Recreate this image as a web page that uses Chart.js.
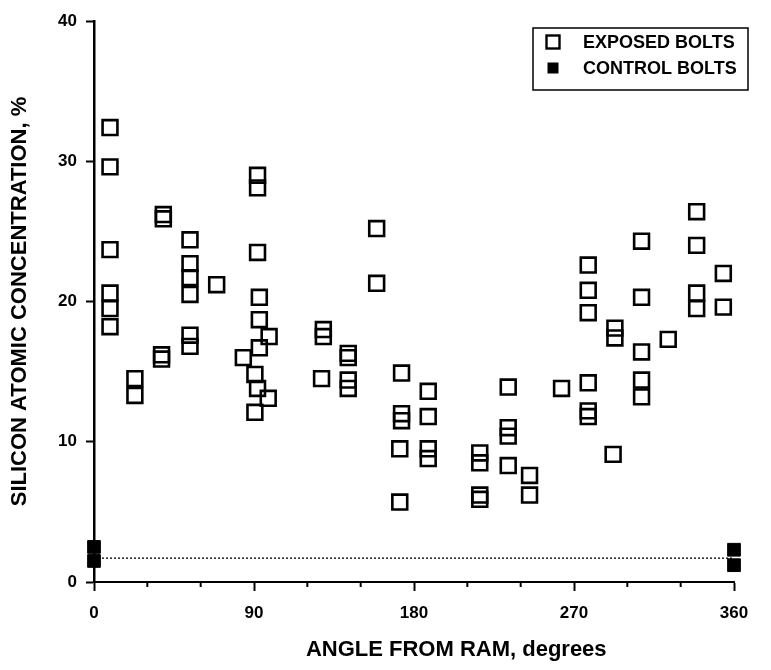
<!DOCTYPE html>
<html>
<head>
<meta charset="utf-8">
<script src="https://cdn.jsdelivr.net/npm/chart.js@4.4.1/dist/chart.umd.min.js"></script>
<style>
  html, body { margin: 0; padding: 0; background: #fff; }
  #wrap { width: 771px; height: 670px; }
</style>
</head>
<body>
<div id="wrap"><canvas id="siChart"></canvas></div>
<script>
// exposed bolts: angle from ram (deg) and silicon concentration (%)
const exposedAngle = [9, 9, 9, 9, 9, 9, 23, 23, 39, 39, 38, 38, 54, 54, 54, 54, 54, 54, 69,
  92, 92, 92, 93, 93, 98.5, 93, 84, 90.5, 92, 98, 90.5, 129, 129, 128, 143, 143, 143, 143,
  159, 159, 173, 173, 173, 172, 172, 188, 188, 188, 188, 217, 217, 217, 217, 233, 233, 233, 233,
  245, 245, 263, 278, 278, 278, 278, 278, 278, 292, 293, 293, 308, 308, 308, 308, 308, 323,
  339, 339, 339, 339, 354, 354];
const exposedSi = [32.4, 29.6, 23.7, 20.6, 19.5, 18.2, 14.5, 13.3, 26.2, 25.9, 16.2, 15.9,
  24.4, 22.7, 21.7, 20.5, 17.6, 16.8, 21.2, 29.0, 28.1, 23.5, 20.3, 18.7, 17.5, 16.7, 16.0,
  14.8, 13.8, 13.1, 12.1, 18.0, 17.5, 14.5, 16.3, 16.0, 14.4, 13.8, 25.2, 21.3, 14.9, 12.0,
  11.5, 9.5, 5.7, 13.6, 11.8, 9.5, 8.8, 9.2, 8.5, 6.2, 5.9, 13.9, 11.0, 10.4, 8.3, 7.6, 6.2,
  13.8, 22.6, 20.8, 19.2, 14.2, 12.2, 11.8, 9.1, 18.1, 17.4, 24.3, 20.3, 16.4, 14.4, 13.2,
  17.3, 26.4, 24.0, 20.6, 19.5, 22.0, 19.6];

// control bolts
const controlAngle = [0, 0, 360, 360];
const controlSi = [2.5, 1.5, 2.3, 1.2];

// dotted reference line for control level
const meanAngle = [0, 360];
const meanSi = [1.7, 1.7];

const xTicks = [0, 90, 180, 270, 360];
const xTitle = 'ANGLE FROM RAM, degrees';
const yTitle = 'SILICON ATOMIC CONCENTRATION, %';

const toPoints = (xs, ys) => xs.map((x, i) => ({ x: x, y: ys[i] }));

const FONT = '"Liberation Sans", Arial, sans-serif';
Chart.defaults.font.family = FONT;
Chart.defaults.color = '#000';

// short ticks every 30 degrees between the labelled ones
const minorTicks = {
  id: 'minorTicks',
  afterDraw(chart) {
    const xs = chart.scales.x;
    const ctx = chart.ctx;
    const y0 = chart.chartArea.bottom;
    ctx.save();
    ctx.strokeStyle = '#000';
    ctx.lineWidth = 2;
    xs.ticks.forEach(t => {
      if (xTicks.includes(t.value)) return;
      const px = xs.getPixelForValue(t.value);
      ctx.beginPath();
      ctx.moveTo(px, y0);
      ctx.lineTo(px, y0 + 5);
      ctx.stroke();
    });
    ctx.restore();
  }
};

// x axis title sits a little right of centre in the original
const xAxisTitle = {
  id: 'xAxisTitle',
  afterDraw(chart) {
    const ctx = chart.ctx;
    const area = chart.chartArea;
    ctx.save();
    ctx.font = 'bold 22px ' + FONT;
    ctx.fillStyle = '#000';
    ctx.textAlign = 'center';
    ctx.textBaseline = 'middle';
    ctx.fillText(xTitle, area.left + (area.right - area.left) * 0.566, area.bottom + 68);
    ctx.restore();
  }
};

// boxed legend, top right
const boxLegend = {
  id: 'boxLegend',
  afterDraw(chart) {
    const ctx = chart.ctx;
    const area = chart.chartArea;
    const x0 = area.right - 201, y0 = area.top + 7, w = 215, h = 62;
    ctx.save();
    ctx.strokeStyle = '#000';
    ctx.lineWidth = 1.5;
    ctx.strokeRect(x0, y0, w, h);
    ctx.font = 'bold 18px ' + FONT;
    ctx.textBaseline = 'middle';
    ctx.fillStyle = '#000';
    [0, 1].forEach(i => {
      const ds = chart.data.datasets[i];
      const cy = y0 + 14 + i * 26;
      const cx = x0 + 20;
      if (i === 0) {
        ctx.lineWidth = 2.4;
        ctx.strokeRect(cx - 6.5, cy - 6.5, 13, 13);
      } else {
        ctx.fillRect(cx - 5.5, cy - 5.5, 11, 11);
      }
      ctx.fillText(ds.label, x0 + 50, cy + 1);
    });
    ctx.restore();
  }
};

const ctx = document.getElementById('siChart').getContext('2d');
const siChart = new Chart(ctx, {
  type: 'scatter',
  data: {
    datasets: [
      {
        label: 'EXPOSED BOLTS',
        data: toPoints(exposedAngle, exposedSi),
        pointStyle: 'rect',
        pointRadius: 10.5,
        borderWidth: 2.6,
        borderColor: '#000',
        backgroundColor: 'rgba(0,0,0,0)',
        clip: false,
      },
      {
        label: 'CONTROL BOLTS',
        data: toPoints(controlAngle, controlSi),
        pointStyle: 'rect',
        pointRadius: 9,
        borderWidth: 1,
        borderColor: '#000',
        backgroundColor: '#000',
        clip: false,
      },
      {
        label: 'control level',
        data: toPoints(meanAngle, meanSi),
        showLine: true,
        borderColor: '#222',
        borderWidth: 1.5,
        borderDash: [2, 2],
        pointRadius: 0,
        clip: false,
      },
    ],
  },
  options: {
    responsive: true,
    maintainAspectRatio: false,
    animation: false,
    layout: {
      padding: { left: 0, top: 21, right: 37, bottom: 0 },
    },
    plugins: {
      legend: { display: false },
      tooltip: { enabled: false },
    },
    scales: {
      x: {
        type: 'linear',
        min: 0,
        max: 360,
        afterFit: (scale) => { scale.height = 88; },
        ticks: {
          stepSize: 30,
          padding: 12,
          font: { size: 17, weight: 'bold' },
          callback: (v) => (xTicks.includes(v) ? v : ''),
          maxRotation: 0,
          autoSkip: false,
        },
        grid: {
          drawOnChartArea: false,
          tickLength: 9,
          tickWidth: 2,
          tickColor: (c) => (c.tick && xTicks.includes(c.tick.value) ? '#000' : 'rgba(0,0,0,0)'),
        },
        border: { display: true, color: '#000', width: 2 },
        title: { display: false },
      },
      y: {
        min: 0,
        max: 40,
        afterFit: (scale) => { scale.width = 94; },
        ticks: {
          stepSize: 10,
          padding: 9,
          font: { size: 17, weight: 'bold' },
        },
        grid: {
          drawOnChartArea: false,
          tickLength: 8,
          tickWidth: 2,
          tickColor: '#000',
        },
        border: { display: true, color: '#000', width: 2.5 },
        title: {
          display: true,
          text: yTitle,
          font: { size: 22, weight: 'bold' },
          padding: { top: 7, bottom: 0 },
        },
      },
    },
  },
  plugins: [minorTicks, xAxisTitle, boxLegend],
});
</script>
</body>
</html>
